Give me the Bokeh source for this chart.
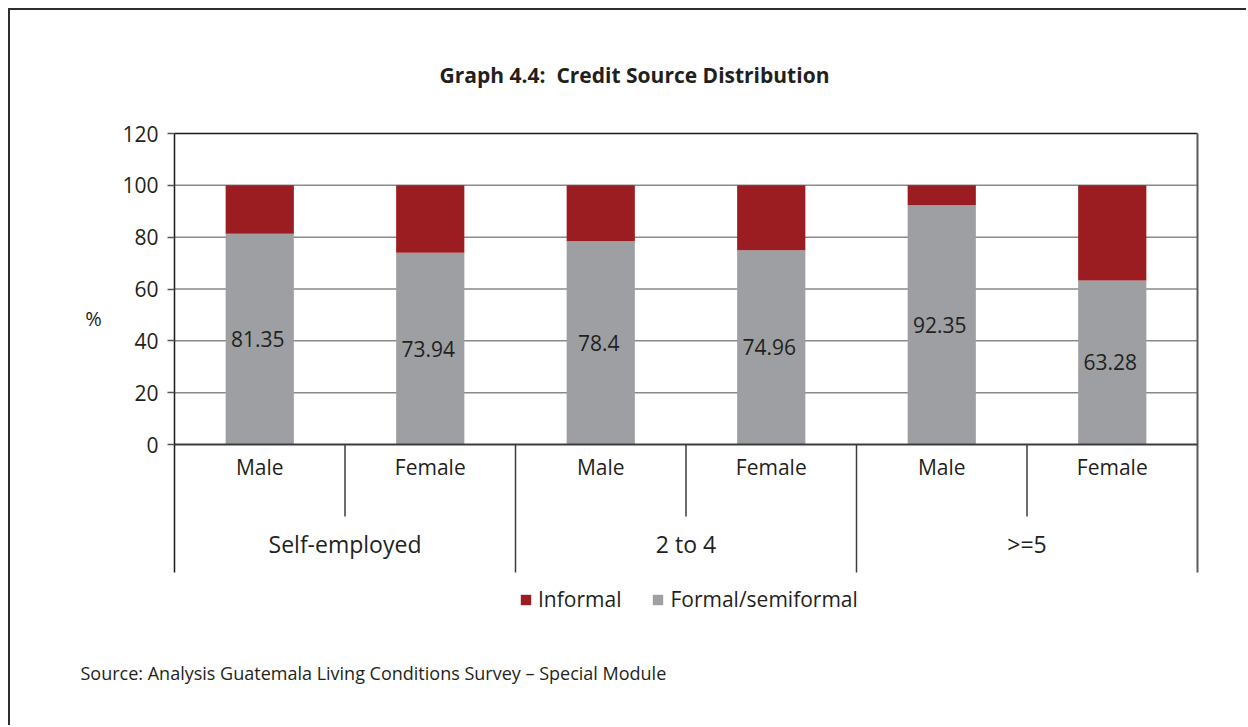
from bokeh.plotting import figure
from bokeh.models import (Range1d, FixedTicker, Label, Legend, LegendItem,
                          ColumnDataSource)
from bokeh.core.properties import value
from bokeh.embed import file_html
from bokeh.resources import INLINE

# ---- data ----
groups = ["Self-employed", "2 to 4", ">=5"]
sexes = ["Male", "Female"]
formal = [81.35, 73.94, 78.4, 74.96, 92.35, 63.28]
informal = [round(100 - v, 2) for v in formal]
formal_labels = ["81.35", "73.94", "78.4", "74.96", "92.35", "63.28"]
y_ticks = [0, 20, 40, 60, 80, 100, 120]
grid_ticks = [20, 40, 60, 80, 100]

FONT = "Open Sans"
TXT = "#231f20"
RED = "#9b1c21"
GRAY = "#9d9fa2"
LINE = "#3c3c3c"

# canvas placed at page (10,10) after an 8px margin and a 2px border
OX, OY = 10, 10
W, H = 1248 - OX, 727 - OY
LB = 66                         # left panel width (canvas px)
FX0, FY0 = OX + LB, OY          # frame page coords (left, top)
FX1, FY1 = 1248, 727            # frame page coords (right, bottom)

# page-pixel geometry of the plot region
PL, PR = 174, 1197              # plot area left / right
P0, P120 = 444, 133             # y of 0 and 120
PBOT = 572                      # bottom of category box
n = len(formal)
ux = (PR - PL) / n              # px per category
uy = (P0 - P120) / 120.0        # px per percent

x_range = Range1d((FX0 - PL) / ux, (FX1 - PL) / ux)
y_range = Range1d(-(FY1 - P0) / uy, (P0 - FY0) / uy)
y_box = -(PBOT - P0) / uy

p = figure(width=W, height=H, output_backend="svg", toolbar_location=None,
           x_range=x_range, y_range=y_range,
           x_axis_location=None, y_axis_location="left",
           min_border_left=LB, min_border_right=0, min_border_top=0,
           min_border_bottom=0, outline_line_color=None,
           background_fill_color="white", border_fill_color="white")
p.styles = {"margin-left": "8px", "margin-top": "8px",
            "border-top": "2px solid #2e2e2e", "border-left": "2px solid #2e2e2e"}

p.xgrid.visible = False
p.ygrid.visible = False

ya = p.yaxis[0]
ya.ticker = FixedTicker(ticks=y_ticks)
ya.fixed_location = 0
ya.bounds = (y_box, 120)
ya.major_tick_out = 7
ya.major_tick_in = 0
ya.minor_tick_line_color = None
ya.axis_line_color = "#1a1a1a"
ya.axis_line_width = 1.5
ya.major_tick_line_color = "#555555"
ya.major_tick_line_width = 1.5
ya.major_label_text_font = FONT
ya.major_label_text_font_size = "21px"
ya.major_label_text_color = TXT
ya.major_label_standoff = 9

# horizontal grid lines, limited to the plot area
ng = len(grid_ticks)
p.segment(x0=[0] * ng, y0=grid_ticks, x1=[n] * ng, y1=grid_ticks,
          line_color="#8a8a8a", line_width=1.5)

src = ColumnDataSource(dict(x=[i + 0.5 for i in range(n)], formal=formal,
                            informal=informal, lab=formal_labels,
                            laby=[v / 2 for v in formal]))
rs = p.vbar_stack(["formal", "informal"], x="x", width=0.4, source=src,
                  color=[GRAY, RED], line_color=None)

# frame lines: top, right, zero line
p.segment(x0=[0], y0=[120], x1=[n], y1=[120], line_color="#1a1a1a", line_width=1.5)
p.segment(x0=[n], y0=[y_box], x1=[n], y1=[120], line_color="#5a5a5a", line_width=2)
p.segment(x0=[0], y0=[0], x1=[n], y1=[0], line_color=LINE, line_width=1.8)

# value labels
p.text(x="x", y="laby", text="lab", source=src, text_font=value(FONT),
       text_font_size="21px", text_color=TXT, text_align="center",
       text_baseline="middle", x_offset=-2)

# category labels
sub_t = [sexes[i % 2] for i in range(n)]
p.text(x=[i + 0.5 for i in range(n)], y=[-(466 - P0) / uy] * n, text=sub_t,
       text_font=value(FONT), text_font_size="21px", text_color=TXT,
       text_align="center", text_baseline="middle")
gx = [2 * g + 1 for g in range(len(groups))]
p.text(x=gx, y=[-(543 - P0) / uy] * len(groups), text=groups,
       text_font=value(FONT), text_font_size="23px", text_color=TXT,
       text_align="center", text_baseline="middle")

# separators
inner = [2 * g + 1 for g in range(len(groups))]
p.segment(x0=inner, y0=[0] * len(inner), x1=inner, y1=[-(516 - P0) / uy] * len(inner),
          line_color=LINE, line_width=1.5)
outer = [2 * g for g in range(1, len(groups))]
p.segment(x0=outer, y0=[0] * len(outer), x1=outer, y1=[y_box] * len(outer),
          line_color=LINE, line_width=1.5)

# texts (screen units relative to frame bottom-left)
def sx(px):
    return px - FX0

def sy(py):
    return FY1 - py

p.add_layout(Label(x=sx(634), y=sy(74), x_units="screen", y_units="screen",
                   text="Graph 4.4:\u00a0 Credit Source Distribution", text_font=FONT,
                   text_font_style="bold", text_font_size="21px", text_color=TXT,
                   text_align="center", text_baseline="middle"))
p.add_layout(Label(x=sx(93), y=sy(318), x_units="screen", y_units="screen",
                   text="%", text_font=FONT, text_font_size="20px", text_color=TXT,
                   text_align="center", text_baseline="middle"))
p.add_layout(Label(x=sx(80), y=sy(672), x_units="screen", y_units="screen",
                   text="Source: Analysis Guatemala Living Conditions Survey \u2013 Special Module",
                   text_font=FONT, text_font_size="18px", text_color=TXT,
                   text_align="left", text_baseline="middle"))

legend = Legend(items=[LegendItem(label="Informal", renderers=[rs[1]]),
                       LegendItem(label="Formal/semiformal", renderers=[rs[0]])],
                location=(sx(519), sy(613)), orientation="horizontal",
                glyph_width=13, glyph_height=13, label_standoff=6, spacing=30,
                padding=0, margin=0, border_line_color=None, background_fill_alpha=0,
                label_text_font=FONT, label_text_font_size="21px", label_text_color=TXT)
p.add_layout(legend, "center")

open("out.html", "w").write(file_html(p, INLINE))
